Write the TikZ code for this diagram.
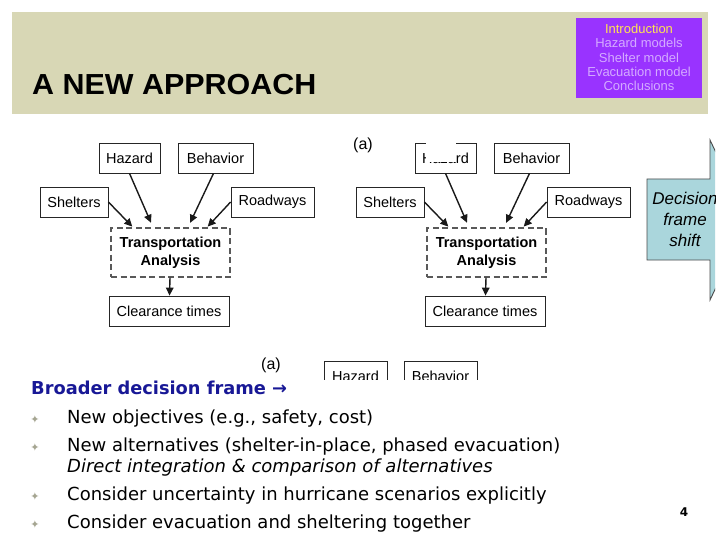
\documentclass[tikz,border=0pt]{standalone}
\usepackage{fontspec}
\setmainfont{Liberation Sans}
\newfontfamily\dejavu{DejaVu Sans}
\usetikzlibrary{arrows.meta,calc}
\definecolor{band}{RGB}{216,215,181}
\definecolor{navpurple}{RGB}{153,51,255}
\definecolor{navyellow}{RGB}{255,228,80}
\definecolor{navlav}{RGB}{212,170,255}
\definecolor{headblue}{RGB}{24,24,150}
\definecolor{bulgray}{RGB}{165,165,145}
\definecolor{shiftblue}{RGB}{170,214,220}
\begin{document}
\begin{tikzpicture}[x=1pt,y=-1pt,
  box/.style={draw=black!85, line width=0.8pt, fill=white, inner sep=0pt, minimum height=30pt, font=\fontsize{14.5}{16}\selectfont},
  tabox/.style={draw=black!65, dash pattern=on 6pt off 3.5pt, line width=1.3pt, align=center, inner sep=0pt, minimum width=119pt, minimum height=49pt, font=\bfseries\fontsize{14.5}{18}\selectfont},
  arr/.style={line width=1.4pt, draw=black!90, -{Triangle[length=8pt,width=7.5pt]}},
  body/.style={anchor=mid west, inner sep=0pt, font=\dejavu\fontsize{18}{20}\selectfont},
  bul/.style={inner sep=0pt, text=bulgray, font=\dejavu\fontsize{11}{11}\selectfont},
  lab/.style={inner sep=0pt, font=\fontsize{16}{18}\selectfont}]
\useasboundingbox (0,0) rectangle (720,540);
\fill[white] (0,0) rectangle (720,540);
% header
\fill[band] (12,12) rectangle (708,114);
\node[anchor=base west, inner sep=0pt, font=\bfseries\fontsize{29}{30}\selectfont] (title) at (32,95) {\scalebox{1.05}[1]{A NEW APPROACH}};
\fill[navpurple] (576,18) rectangle (702,98);
\node[align=center, inner sep=0pt, font=\fontsize{13}{14.3}\selectfont] (nav) at (639,57.5)
  {\textcolor{navyellow}{Introduction}\\\textcolor{navlav}{Hazard models}\\\textcolor{navlav}{Shelter model}\\\textcolor{navlav}{Evacuation model}\\\textcolor{navlav}{Conclusions}};
% two diagrams
\foreach \dx/\p in {0/L,316/R}{
\begin{scope}[xshift=\dx, name prefix=\p-]
  \node[box, minimum width=61pt] (hz) at (129.5,158) {Hazard};
  \node[box, minimum width=75pt] (bh) at (215.5,158) {Behavior};
  \node[box, minimum width=68pt] (sh) at (74,202) {Shelters};
  \node[box, minimum width=83pt] (rd) at (272.5,202) {Roadways};
  \node[tabox] (ta) at (170.5,252.5) {Transportation\\Analysis};
  \node[box, minimum width=120pt] (ct) at (169,311) {Clearance times};
  \draw[arr, shorten >=5pt] (hz.south) -- ([xshift=-17.5pt]ta.north);
  \draw[arr, shorten >=5pt] ([xshift=-2pt]bh.south) -- ([xshift=17.5pt]ta.north);
  \draw[arr, shorten >=1pt] (sh.east) -- ([xshift=-37.5pt]ta.north);
  \draw[arr, shorten >=1pt] (rd.west) -- ([xshift=36.5pt]ta.north);
  \draw[arr] ([xshift=-0.5pt]ta.south) -- ([xshift=0.5pt]ct.north);
\end{scope}}
% occluding patch on right Hazard box
\fill[white] (426,134) rectangle (456,162);
\node[lab] (a1) at (363,145) {(a)};
% decision frame shift arrow
\begin{scope}
  \clip (600,120) rectangle (715,320);
  \draw[fill=shiftblue, draw=black!70, line width=0.9pt]
    (647,179) -- (710,179) -- (710,140) -- (748,220) -- (710,300) -- (710,260) -- (647,260) -- cycle;
  \node[align=center, inner sep=0pt, font=\itshape\fontsize{17}{21}\selectfont] (dfs) at (685,219) {Decision\\frame\\shift};
\end{scope}
% partial lower diagram
\node[lab] (a2) at (271,365) {(a)};
\begin{scope}
  \clip (300,350) rectangle (500,379);
  \node[box, minimum width=63pt, anchor=north] (hz2) at (355.5,361) {Hazard};
  \node[box, minimum width=73pt, anchor=north] (bh2) at (440.5,361) {Behavior};
\end{scope}
% text block
\node[anchor=mid west, inner sep=0pt, text=headblue, font=\dejavu\bfseries\fontsize{17.8}{20}\selectfont] (head) at (31,392) {Broader decision frame →};
\node[bul] (b1) at (35,419) {✦};
\node[bul] (b2) at (35,447) {✦};
\node[bul] (b3) at (35,496) {✦};
\node[bul] (b4) at (35,524) {✦};
\node[body] (t1) at (67,421) {New objectives (e.g., safety, cost)};
\node[body] (t2) at (67,449) {New alternatives (shelter-in-place, phased evacuation)};
\node[body, font=\dejavu\itshape\fontsize{18}{20}\selectfont] (t3) at (67,470) {Direct integration \& comparison of alternatives};
\node[body] (t4) at (67,498) {Consider uncertainty in hurricane scenarios explicitly};
\node[body] (t5) at (67,526) {Consider evacuation and sheltering together};
\node[inner sep=0pt, font=\dejavu\bfseries\fontsize{12}{14}\selectfont] (pg) at (684,512) {4};
\end{tikzpicture}
\end{document}
